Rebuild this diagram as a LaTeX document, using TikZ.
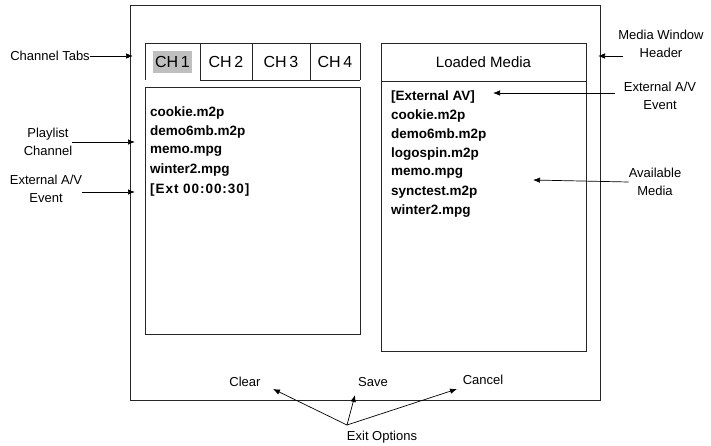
\documentclass[tikz,border=0pt]{standalone}
\usepackage{fontspec}
\setmainfont{Liberation Sans}
\usetikzlibrary{arrows.meta}

\begin{document}
\begin{tikzpicture}[x=1pt,y=-1pt,
  box/.style={draw=black!85, line width=0.9pt, inner sep=0pt, anchor=north west},
  lbl/.style={font=\fontsize{13}{18.5}\selectfont, align=center, inner sep=0pt},
  item/.style={font=\bfseries\fontsize{13.5}{15}\selectfont, anchor=west, inner sep=0pt},
  tabtxt/.style={font=\fontsize{16}{18}\selectfont, inner sep=0pt},
  arr/.style={-{Latex[length=7pt,width=5.5pt]}, line width=0.7pt}]
\useasboundingbox (0,0) rectangle (711,446);

% outer window
\node[box, minimum width=470, minimum height=395] (win) at (130,5) {};

% channel tabs
\fill[black!25] (153,51) rectangle (192,73);
\draw[black!85, line width=0.9pt] (145,80) -- (145,43) -- (360,43);
\draw[black!85, line width=0.9pt] (200,80) -- (360,80);
\foreach \x in {200,252,310,360}
  \draw[black!85, line width=0.9pt] (\x,43) -- (\x,80);
\node[tabtxt] (ch1) at (172.5,62) {CH\,1};
\node[tabtxt] (ch2) at (226,62) {CH\,2};
\node[tabtxt] (ch3) at (281,62) {CH\,3};
\node[tabtxt] (ch4) at (335,62) {CH\,4};

% playlist channel
\node[box, minimum width=215, minimum height=247] (plist) at (145,87) {};
\foreach \t [count=\i] in {cookie.m2p, demo6mb.m2p, memo.mpg, winter2.mpg}
  \node[item] (pl\i) at (150,{113+19*(\i-1)}) {\t};
\node[item] (pl5) at (150,190) {\addfontfeature{LetterSpace=7}[Ext 00:00:30]};

% loaded media window
\node[box, minimum width=205, minimum height=38] (mhead) at (381,43) {};
\node[box, minimum width=205, minimum height=270] (mbody) at (381,81) {};
\node[tabtxt, font=\fontsize{15}{18}\selectfont] (mtitle) at (483.5,62) {Loaded Media};
\foreach \t [count=\i] in {{[External AV]}, cookie.m2p, demo6mb.m2p, logospin.m2p, memo.mpg, synctest.m2p, winter2.mpg}
  \node[item] (md\i) at (391,{97+19*(\i-1)}) {\t};

% exit options
\node[lbl] (clear) at (245,382) {Clear};
\node[lbl] (save) at (373,382) {Save};
\node[lbl] (cancel) at (483,380) {Cancel};
\node[lbl] (exit) at (382,437) {Exit Options};

% annotations, left
\node[lbl] (chtabs) at (50,56) {Channel Tabs};
\node[lbl] (plchan) at (48,142) {Playlist\\Channel};
\node[lbl] (extl) at (46,189) {External A/V\\Event};
\coordinate (chtabsT) at (133,56);
\coordinate (plchanT) at (135,142);
\coordinate (extlT) at (135,192);
\draw[arr] (chtabs.east) -- (chtabsT);
\draw[arr] (plchan.east) -- (plchanT);
\draw[arr] ([yshift=-3pt]extl.east) -- (extlT);

% annotations, right
\node[lbl] (mwh) at (661,44) {Media Window\\Header};
\node[lbl] (extr) at (660,96) {External A/V\\Event};
\node[lbl] (avail) at (655,182) {Available\\Media};
\coordinate (mwhT) at (598,56);
\coordinate (extrT) at (493,93);
\coordinate (availT) at (533,180);
\draw[arr] (623,56) -- (mwhT);
\draw[arr] (615,93) -- (extrT);
\draw[arr] (avail.west) -- (availT);

% arrows from the exit options label
\coordinate (hub) at (347,425);
\coordinate (clearT) at (273,389);
\coordinate (saveT) at (355,395);
\coordinate (cancelT) at (457,389);
\draw[arr] (hub) -- (clearT);
\draw[arr] (hub) -- (saveT);
\draw[arr] (hub) -- (cancelT);
\end{tikzpicture}
\end{document}
